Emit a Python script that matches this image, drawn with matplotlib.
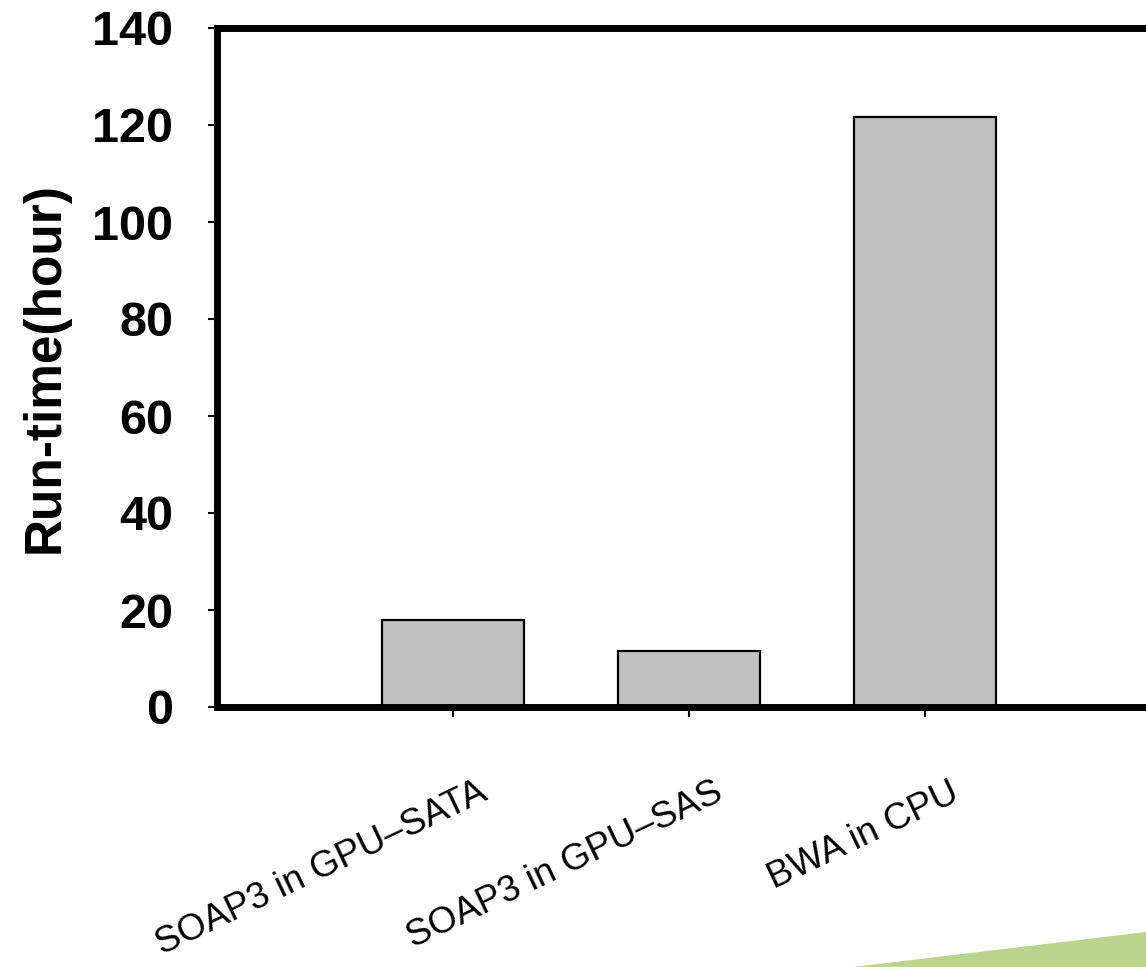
import matplotlib
matplotlib.use("Agg")
import matplotlib.pyplot as plt
from matplotlib.patches import Polygon
import matplotlib.transforms as mtransforms

plt.rcParams['font.family'] = ['Liberation Sans', 'DejaVu Sans']

categories = ["SOAP3 in GPU\u2013SATA", "SOAP3 in GPU\u2013SAS", "BWA in CPU"]
runtime_hours = [18.0, 11.5, 121.6]
y_ticks = [0, 20, 40, 60, 80, 100, 120, 140]

W, H = 1146, 967
fig = plt.figure(figsize=(W / 100, H / 100), dpi=100)
fig.patch.set_facecolor("white")

# plot frame runs off the right edge of the figure
ax = fig.add_axes([217 / W, (H - 707) / H, 944 / W, 679 / H])
positions = list(range(1, len(categories) + 1))
ax.bar(positions, runtime_hours, width=0.6, color="#C0C0C0",
       edgecolor="black", linewidth=1.6, zorder=2)

ax.set_xlim(0, 4)
ax.set_ylim(0, 140)
ax.set_yticks(y_ticks)
ax.set_yticklabels([str(v) for v in y_ticks], fontsize=35, fontweight="bold")
ax.set_xticks(positions)
ax.set_xticklabels(categories, fontsize=26.5, rotation=25.5,
                   ha="right", va="top", rotation_mode="anchor")

for side in ("left", "top", "bottom"):
    ax.spines[side].set_linewidth(5)
ax.spines["right"].set_visible(False)

ax.tick_params(axis="y", length=6.5, width=1.5, pad=25, direction="out")
ax.tick_params(axis="x", length=7, width=1.5, pad=42, direction="out")

# nudge the slanted category labels to sit right of their ticks
shift = mtransforms.ScaledTranslation(24 / 100, 0, fig.dpi_scale_trans)
for lbl in ax.get_xticklabels():
    lbl.set_transform(lbl.get_transform() + shift)

ax.set_ylabel("Run-time(hour)", fontsize=37, fontweight="bold")
ax.yaxis.set_label_coords(-(217 - 70) / 944, 0.5)

# green accent strip along the lower right corner
strip = Polygon([[853 / W, 0], [1.0, 0], [1.0, (H - 932) / H]],
                closed=True, transform=fig.transFigure,
                facecolor="#B9D48B", edgecolor="none")
fig.patches.append(strip)

fig.savefig("out.png", dpi=100, facecolor="white")
